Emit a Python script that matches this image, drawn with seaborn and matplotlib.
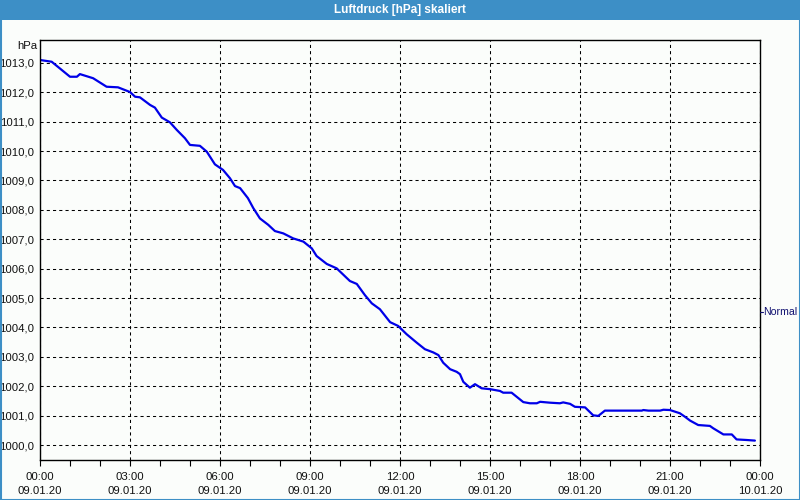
import matplotlib
matplotlib.use("Agg")
import matplotlib.pyplot as plt
from matplotlib.patches import Rectangle
import seaborn as sns
import pandas as pd

# ---- data (hours since 09.01.20 00:00, pressure in hPa) ----
hours = [0.00, 0.39, 1.00, 1.23, 1.33, 1.77, 2.22, 2.60, 3.00, 3.17, 3.33, 3.67,
         3.83, 4.06, 4.33, 4.56, 4.83, 5.00, 5.33, 5.56, 5.83, 6.10, 6.33, 6.50,
         6.67, 6.93, 7.11, 7.33, 7.61, 7.83, 8.11, 8.44, 8.78, 9.06, 9.22, 9.56,
         9.89, 10.33, 10.56, 10.83, 11.06, 11.33, 11.67, 11.94, 12.22, 12.56, 12.83,
         13.11, 13.28, 13.44, 13.67, 13.89, 14.00, 14.11, 14.33, 14.50, 14.72, 15.00, 15.33,
         15.44, 15.72, 16.11, 16.33, 16.56, 16.67, 17.00, 17.33, 17.44, 17.67, 17.83,
         18.17, 18.44, 18.61, 18.83, 19.44, 20.06, 20.11, 20.28, 20.67, 20.78, 21.00,
         21.33, 21.50, 21.67, 21.94, 22.33, 22.44, 22.78, 23.06, 23.22, 23.56, 23.83]
pressure = [1013.10, 1013.04, 1012.53, 1012.53, 1012.62, 1012.48, 1012.19, 1012.17,
            1012.01, 1011.85, 1011.83, 1011.57, 1011.48, 1011.14, 1010.98, 1010.72,
            1010.44, 1010.21, 1010.18, 1009.98, 1009.55, 1009.36, 1009.08, 1008.81,
            1008.74, 1008.40, 1008.06, 1007.71, 1007.49, 1007.28, 1007.20, 1007.03,
            1006.92, 1006.69, 1006.43, 1006.16, 1006.01, 1005.58, 1005.48, 1005.10,
            1004.82, 1004.62, 1004.18, 1004.05, 1003.77, 1003.48, 1003.26,
            1003.15, 1003.06, 1002.80, 1002.58, 1002.49, 1002.41, 1002.15, 1001.95,
            1002.07, 1001.93, 1001.90, 1001.84, 1001.78, 1001.78, 1001.46, 1001.42,
            1001.42, 1001.47, 1001.44, 1001.42, 1001.45, 1001.40, 1001.30, 1001.28,
            1001.01, 1000.99, 1001.17, 1001.17, 1001.17, 1001.19, 1001.17, 1001.17,
            1001.20, 1001.19, 1001.08, 1000.96, 1000.83, 1000.68, 1000.65, 1000.57,
            1000.36, 1000.36, 1000.19, 1000.17, 1000.15]

y_ticks = [1000, 1001, 1002, 1003, 1004, 1005, 1006, 1007, 1008, 1009, 1010, 1011, 1012, 1013]
x_ticks = [0, 3, 6, 9, 12, 15, 18, 21, 24]
time_labels = ["00:00", "03:00", "06:00", "09:00", "12:00", "15:00", "18:00", "21:00", "00:00"]
date_labels = ["09.01.20"] * 8 + ["10.01.20"]
title = "Luftdruck [hPa] skaliert"
unit = "hPa"
series_name = "Normal"

df = pd.DataFrame({"h": hours, "p": pressure})

sns.set_style("white")
plt.rcParams["font.family"] = ["Liberation Sans", "DejaVu Sans"]

BG = "#fbfdfb"
BAR = "#3d8fc6"
FS = 8.2

fig = plt.figure(figsize=(8, 5), dpi=100, facecolor=BG)
ax = fig.add_axes([40 / 800, 40 / 500, 720 / 800, 420 / 500])
ax.set_facecolor(BG)

sns.lineplot(data=df, x="h", y="p", ax=ax, color="#0000e8", linewidth=1.6, legend=False)

ax.set_xlim(0, 24)
ax.set_ylim(999.49, 1013.78)

ax.set_yticks(y_ticks)
ax.set_yticklabels([f"{v},0" for v in y_ticks], fontsize=FS, color="#111111")
ax.set_xticks(x_ticks)
ax.set_xticklabels([f"{t}\n{d}" for t, d in zip(time_labels, date_labels)], fontsize=FS,
                   linespacing=1.45, color="#111111")
ax.set_xticks(list(range(0, 25)), minor=True)
ax.tick_params(axis="x", which="both", direction="out", length=4, width=0.8, color="black",
               pad=5, bottom=True)
ax.tick_params(axis="y", which="both", length=0, pad=4)
ax.set_xlabel("")
ax.set_ylabel("")

ax.grid(True, which="major", color="black", linestyle=(0, (3, 3)), linewidth=0.75)
for s in ax.spines.values():
    s.set_color("black")
    s.set_linewidth(1.0)

# title bar and frame
fig.patches.append(Rectangle((0, 1 - 20 / 500), 1, 20 / 500, transform=fig.transFigure,
                             facecolor=BAR, edgecolor="none", zorder=0))
fig.patches.append(Rectangle((0.5 / 800, 0.5 / 500), 799 / 800, 499 / 500, transform=fig.transFigure,
                             facecolor="none", edgecolor=BAR, linewidth=1.5, zorder=5))
fig.text(0.5, 1 - 10 / 500, title, color="white", fontsize=8.5, fontweight="bold",
         ha="center", va="center")

fig.text(37 / 800, 1 - 46 / 500, unit, fontsize=FS, ha="right", va="center", color="#111111")

# legend entry at right
fig.text(763 / 800, 1 - 312 / 500, series_name, fontsize=7.6, color="#101070",
         ha="left", va="center")
fig.lines.append(plt.Line2D([760 / 800, 763 / 800], [1 - 312 / 500] * 2, transform=fig.transFigure,
                            color="#101070", linewidth=0.8))

fig.savefig("out.png", dpi=100, facecolor=BG)
